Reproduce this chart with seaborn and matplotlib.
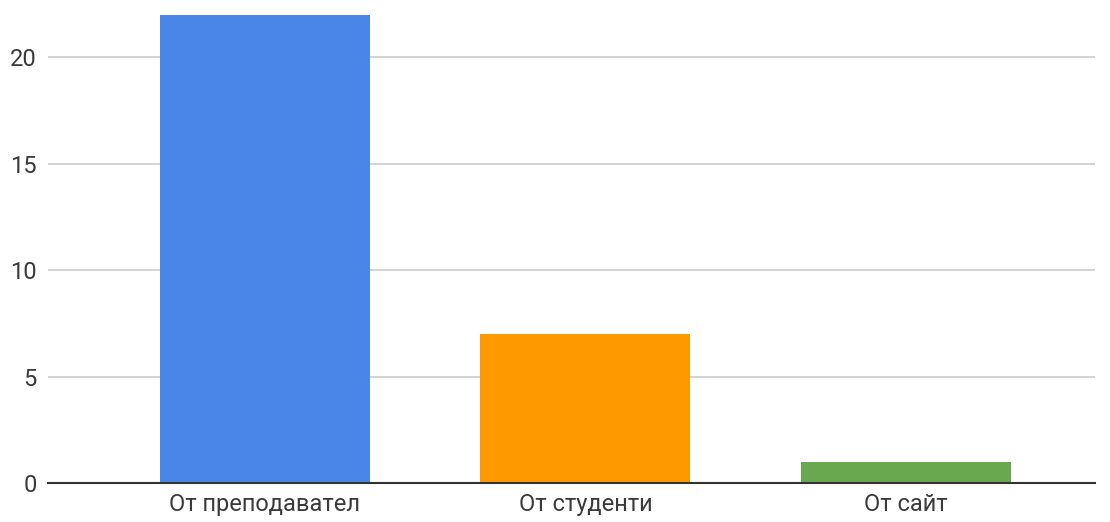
import matplotlib
matplotlib.use("Agg")
import matplotlib.pyplot as plt
import seaborn as sns
import pandas as pd

categories = ["От преподавател", "От студенти", "От сайт"]
values = [22, 7, 1]
colors = ["#4a86e8", "#ff9900", "#6aa84f"]
yticks = [0, 5, 10, 15, 20]

sns.set_theme(style="white")
plt.rcParams['font.family'] = ['Roboto', 'DejaVu Sans']

df = pd.DataFrame({"cat": categories, "val": values})

fig = plt.figure(figsize=(11.1, 5.22), dpi=100)
ax = fig.add_axes([48/1110, 39/522, 1047/1110, 481/522])

sns.barplot(data=df, x="cat", y="val", hue="cat", palette=colors,
            order=categories, hue_order=categories, width=0.655,
            legend=False, ax=ax, saturation=1, linewidth=0, zorder=3)

ax.set_xlim(-0.677, 2.59)
ax.set_ylim(0, 22.6)
ax.set_yticks(yticks)
ax.set_yticklabels([str(t) for t in yticks])
ax.yaxis.grid(True, color="#cccccc", linewidth=1.2, zorder=0)
ax.set_axisbelow(True)
for s in ["top", "right", "left"]:
    ax.spines[s].set_visible(False)
ax.spines["bottom"].set_color("#333333")
ax.spines["bottom"].set_linewidth(1.5)
ax.spines["bottom"].set_zorder(5)
ax.set_xlabel("")
ax.set_ylabel("")
ax.tick_params(axis="both", length=0, labelsize=17, labelcolor="#3a3a3a")
ax.tick_params(axis="x", pad=7)
ax.tick_params(axis="y", pad=8)

fig.savefig("out.png", dpi=100, facecolor="white")
